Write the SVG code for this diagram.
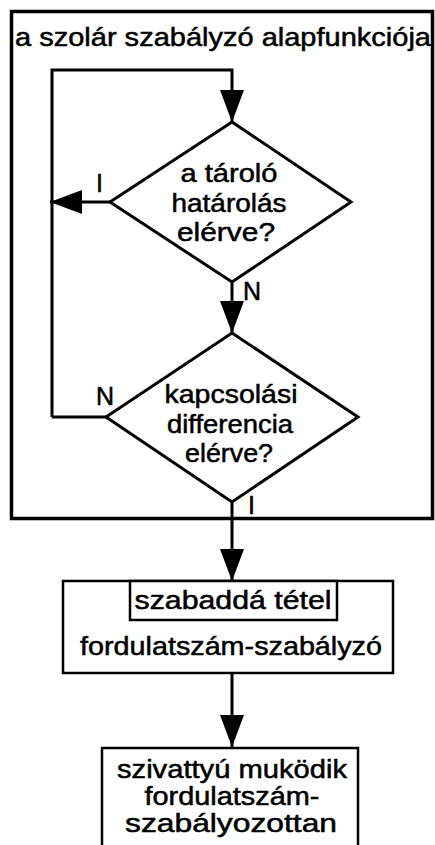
<svg xmlns="http://www.w3.org/2000/svg" width="435" height="845" viewBox="0 0 435 845">
<defs>
<style>
text{font-family:"Liberation Sans",Arial,sans-serif;font-size:25px;fill:#000;stroke:#000;stroke-width:0.5;text-anchor:middle}
.ln{fill:none;stroke:#000;stroke-width:3}
.shape{fill:#fff;stroke:#000;stroke-width:3}
.box{fill:#fff;stroke:#000;stroke-width:2.5}
.lbl{text-anchor:start}
</style>
<marker id="ah" viewBox="0 0 32 24" refX="32" refY="12" markerWidth="32" markerHeight="24" markerUnits="userSpaceOnUse" orient="auto">
<path d="M0,0 L32,12 L0,24 Z" fill="#000"/>
</marker>
</defs>
<rect width="435" height="845" fill="#fff"/>
<g id="frame">
<rect x="11.5" y="11.5" width="421" height="507" fill="none" stroke="#000" stroke-width="3.5"/>
<text x="223" y="46" textLength="416" lengthAdjust="spacingAndGlyphs">a  szolár  szabályzó  alapfunkciója</text>
</g>
<g id="connectors">
<polyline class="ln" points="52,417 52,70 232,70 232,122" marker-end="url(#ah)"/>
<line class="ln" x1="110" y1="202" x2="50" y2="202" marker-end="url(#ah)"/>
<line class="ln" x1="232" y1="282" x2="232" y2="333" marker-end="url(#ah)"/>
<line class="ln" x1="106" y1="417" x2="52" y2="417"/>
<line class="ln" x1="232" y1="502" x2="232" y2="581" marker-end="url(#ah)"/>
<line class="ln" x1="232" y1="673" x2="232" y2="747" marker-end="url(#ah)"/>
<text class="lbl" x="96" y="192">I</text>
<text class="lbl" x="243" y="300">N</text>
<text class="lbl" x="96" y="405">N</text>
<text class="lbl" x="248" y="514">I</text>
</g>
<g id="d1">
<polygon class="shape" points="232,122 351,202 232,282 110,202"/>
<text x="229" y="182" textLength="97" lengthAdjust="spacingAndGlyphs">a  tároló</text>
<text x="229" y="212" textLength="115" lengthAdjust="spacingAndGlyphs">határolás</text>
<text x="226" y="241" textLength="98" lengthAdjust="spacingAndGlyphs">elérve?</text>
</g>
<g id="d2">
<polygon class="shape" points="232,333 358,417 232,502 106,417"/>
<text x="231" y="403" textLength="133" lengthAdjust="spacingAndGlyphs">kapcsolási</text>
<text x="230" y="433" textLength="126" lengthAdjust="spacingAndGlyphs">differencia</text>
<text x="229" y="462" textLength="88" lengthAdjust="spacingAndGlyphs">elérve?</text>
</g>
<g id="b1">
<rect class="box" x="63" y="581" width="330" height="92"/>
<rect class="box" x="130" y="581" width="207" height="39"/>
<text x="233" y="609" textLength="197" lengthAdjust="spacingAndGlyphs">szabaddá  tétel</text>
<text x="231" y="655" textLength="302" lengthAdjust="spacingAndGlyphs">fordulatszám-szabályzó</text>
</g>
<g id="b2">
<rect class="box" x="102" y="748" width="256" height="110"/>
<text x="232" y="778" textLength="230" lengthAdjust="spacingAndGlyphs">szivattyú  muködik</text>
<text x="232" y="805" textLength="175" lengthAdjust="spacingAndGlyphs">fordulatszám-</text>
<text x="231" y="832" textLength="212" lengthAdjust="spacingAndGlyphs">szabályozottan</text>
</g>
</svg>
